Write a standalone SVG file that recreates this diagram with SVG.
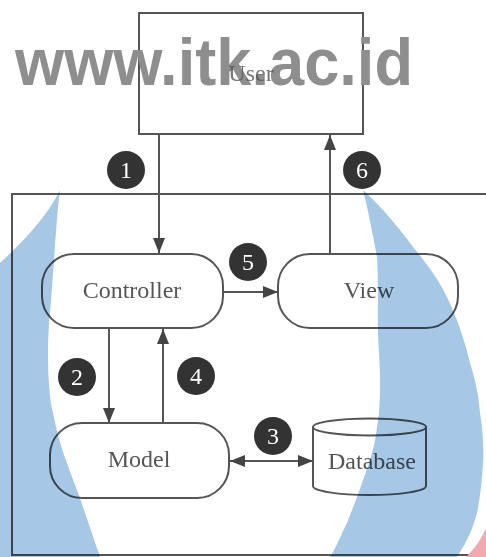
<svg xmlns="http://www.w3.org/2000/svg" width="486" height="557" viewBox="0 0 486 557">
<defs>
<style>
.node{fill:#fff;stroke:#555;stroke-width:2}
.lbl{font-family:"Liberation Serif","Times New Roman",serif;font-size:24px;fill:#555;text-anchor:middle}
.edge{stroke:#555;stroke-width:2;fill:none}
.badge circle{fill:#333}
.badge text{font-family:"Liberation Serif","Times New Roman",serif;font-size:24px;fill:#fff;text-anchor:middle}
.blue{fill:#a6c8e6;mix-blend-mode:multiply}
</style>
<marker id="ah" viewBox="0 0 15 12" refX="15" refY="6" markerWidth="15" markerHeight="12" markerUnits="userSpaceOnUse" orient="auto-start-reverse">
<path d="M0,0 L15,6 L0,12 Z" fill="#444"/>
</marker>
</defs>
<rect width="486" height="557" fill="#fff"/>
<g id="system-boundary">
<rect x="12" y="194" width="490" height="361" fill="none" stroke="#555" stroke-width="2"/>
</g>
<rect x="139" y="13" width="224" height="121" class="node"/>
<text x="15" y="85" font-family="Liberation Sans,Arial,sans-serif" font-weight="bold" font-size="66" fill="#8e8e8e" textLength="398" lengthAdjust="spacingAndGlyphs">www.itk.ac.id</text>
<g id="user">
<text class="lbl" x="251" y="81" fill-opacity="0.8">User</text>
</g>
<g id="controller">
<rect class="node" x="42" y="254" width="181" height="74" rx="32"/>
<text class="lbl" x="132" y="298">Controller</text>
</g>
<g id="view">
<rect class="node" x="278" y="254" width="180" height="74" rx="32"/>
<text class="lbl" x="369" y="298">View</text>
</g>
<g id="model">
<rect class="node" x="50" y="423" width="179" height="75" rx="32"/>
<text class="lbl" x="139" y="467">Model</text>
</g>
<g id="database">
<path class="node" d="M313,427 A56.5,8.5 0 0 1 426,427 V486 A56.5,9 0 0 1 313,486 Z"/>
<path class="edge" d="M313,427 A56.5,8.5 0 0 0 426,427"/>
<text class="lbl" x="372" y="469">Database</text>
</g>
<g id="connectors">
<line class="edge" x1="159" y1="134" x2="159" y2="253" marker-end="url(#ah)"/>
<line class="edge" x1="330" y1="254" x2="330" y2="135" marker-end="url(#ah)"/>
<line class="edge" x1="223" y1="292" x2="278" y2="292" marker-end="url(#ah)"/>
<line class="edge" x1="109" y1="328" x2="109" y2="423" marker-end="url(#ah)"/>
<line class="edge" x1="163" y1="423" x2="163" y2="329" marker-end="url(#ah)"/>
<line class="edge" x1="230" y1="461" x2="313" y2="461" marker-start="url(#ah)" marker-end="url(#ah)"/>
<g class="badge"><circle cx="126" cy="170" r="19"/><text x="126" y="178">1</text></g>
<g class="badge"><circle cx="362" cy="170" r="19"/><text x="362" y="178">6</text></g>
<g class="badge"><circle cx="248" cy="262" r="19"/><text x="248" y="270">5</text></g>
<g class="badge"><circle cx="77" cy="377" r="19"/><text x="77" y="385">2</text></g>
<g class="badge"><circle cx="196" cy="376" r="19"/><text x="196" y="384">4</text></g>
<g class="badge"><circle cx="273" cy="436" r="19"/><text x="273" y="444">3</text></g>
</g>
<g id="background-shapes">
<path class="blue" d="M60,190 C57,210 53,280 50,313 C47,340 47,390 53,413 C57,433 62,450 67,463 C73,480 78,492 83,507 L100,557 L0,557 L0,263 C25,240 48,215 60,190 Z"/>
<path class="blue" d="M363,190 C385,210 402,232 413,247 C428,265 440,282 447,297 C458,320 466,345 470,363 C476,382 479,398 480,413 C483,432 484,450 483,463 C482,482 480,498 477,513 C473,528 468,540 457,557 L330,557 C340,540 343,530 347,523 C352,510 358,495 363,480 C370,462 375,445 377,427 C380,410 380,395 380,380 C380,360 378,345 378,330 C378,300 378,270 377,257 C372,230 368,210 363,190 Z"/>
<path d="M466,557 C475,548 481,540 486,528 L486,557 Z" fill="#f2a9b0"/>
</g>
</svg>
